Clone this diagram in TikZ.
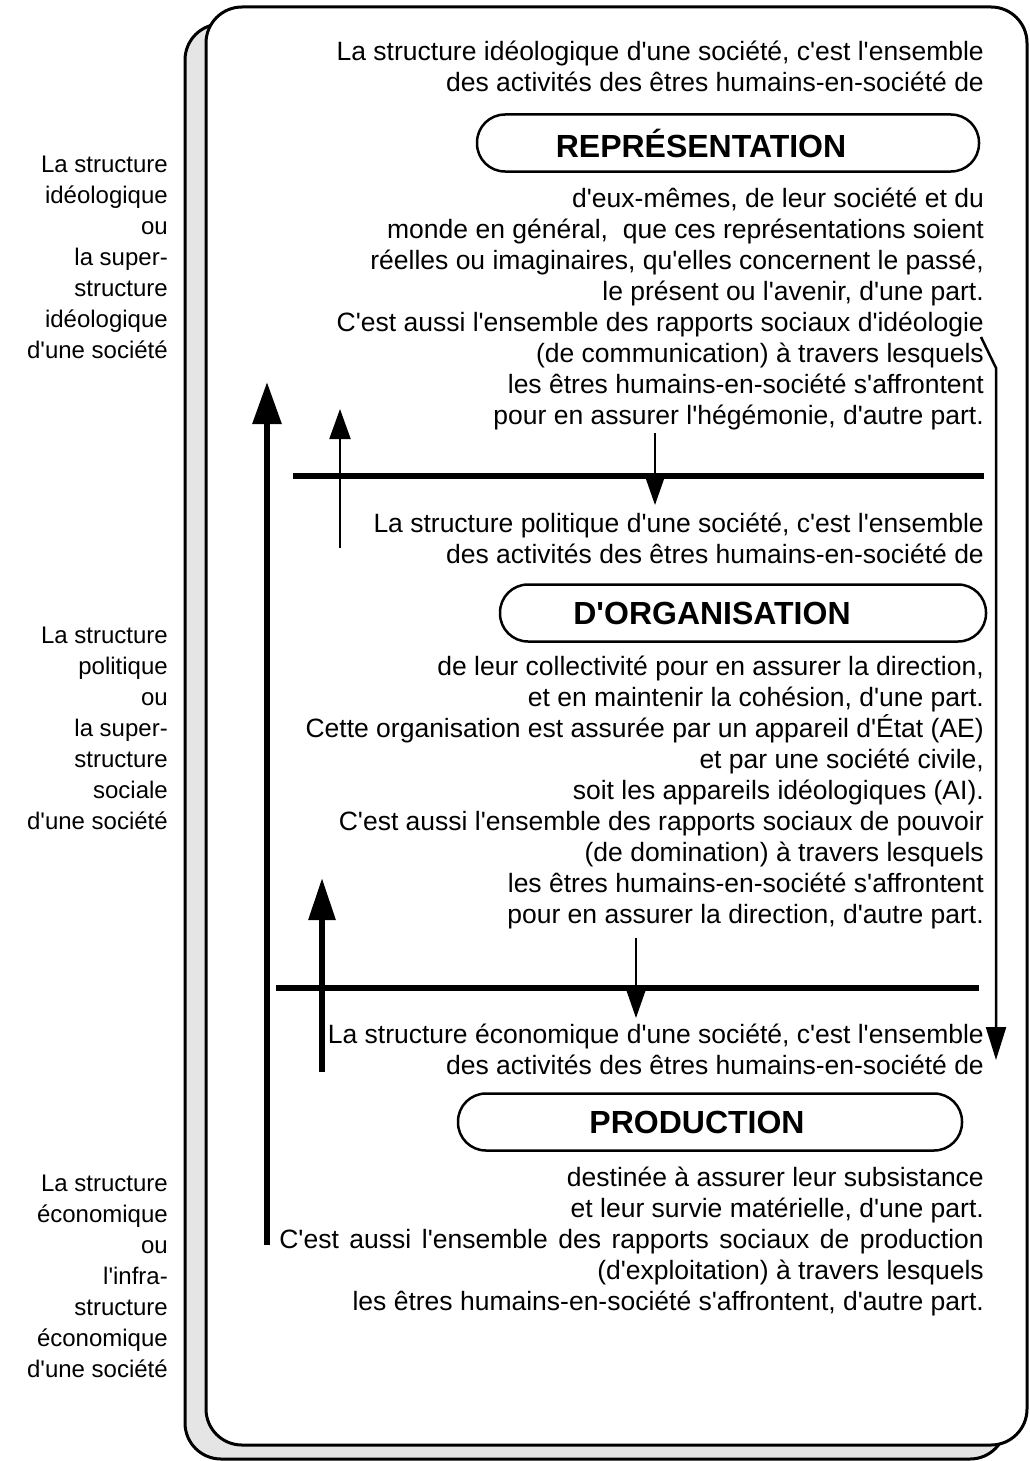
\documentclass[tikz,border=0pt]{standalone}
\usepackage{fontspec}
\setmainfont{Liberation Sans}[Ligatures=TeXOff]
\usetikzlibrary{arrows.meta}

\begin{document}
\begin{tikzpicture}[x=1pt,y=-1pt,
  frame/.style={line width=3pt, rounded corners=36pt},
  % text blocks are placed by the baseline of their last line
  txt/.style={font=\fontsize{26.5}{31}\selectfont, align=right, anchor=base east, inner sep=0pt},
  side/.style={txt, font=\fontsize{24}{31}\selectfont},
  banner/.style={draw, line width=2.5pt, rounded corners=28pt, minimum height=57pt,
                 inner sep=0pt, font=\fontsize{32}{36}\selectfont\bfseries},
  rule/.style={line width=6pt},
  bigarrow/.style={line width=6pt, -{Triangle[width=28pt,length=42pt]}},
  smallarrow/.style={line width=2pt, -{Triangle[width=21pt,length=30pt]}},
]
\useasboundingbox (0,0) rectangle (1029,1461);

% card with its shadow
\draw[frame, fill=black!10] (185,24) rectangle (1006,1459);
\draw[frame, fill=white] (206,7) rectangle (1027,1445);

% ---- ideological level ----
\node[txt] (ideo1) at (984,92) {La structure idéologique d'une société, c'est l'ensemble\\
des activités des êtres humains-en-société de};
\node[banner, minimum width=502pt] (rep) at (728,143) {REPRÉSENTATION\hspace*{54pt}};
\node[txt] (ideo2) at (984,424) {d'eux-mêmes, de leur société et du\\
monde en général,\ \ que ces représentations soient\\
réelles ou imaginaires, qu'elles concernent le passé,\\
le présent ou l'avenir, d'une part.\\
C'est aussi l'ensemble des rapports sociaux d'idéologie\\
(de communication) à travers lesquels\\
les êtres humains-en-société s'affrontent\\
pour en assurer l'hégémonie, d'autre part.};

% ---- political level ----
\node[txt] (poli1) at (984,563) {La structure politique d'une société, c'est l'ensemble\\
des activités des êtres humains-en-société de};
\node[banner, minimum width=486pt] (org) at (743,613) {D'ORGANISATION\hspace*{62pt}};
\node[txt] (poli2) at (984,923) {de leur collectivité pour en assurer la direction,\\
et en maintenir la cohésion, d'une part.\\
Cette organisation est assurée par un appareil d'État (AE)\\
et par une société civile,\\
soit les appareils idéologiques (AI).\\
C'est aussi l'ensemble des rapports sociaux de pouvoir\\
(de domination) à travers lesquels\\
les êtres humains-en-société s'affrontent\\
pour en assurer la direction, d'autre part.};

% ---- economic level ----
\node[txt] (eco1) at (984,1074) {La structure économique d'une société, c'est l'ensemble\\
des activités des êtres humains-en-société de};
\node[banner, minimum width=504pt] (prod) at (710,1122) {PRODUCTION\hspace*{26pt}};
\node[txt] (eco2) at (984,1310) {destinée à assurer leur subsistance\\
et leur survie matérielle, d'une part.\\
{\spaceskip=10.6pt\relax C'est aussi l'ensemble des rapports sociaux de production}\\
(d'exploitation) à travers lesquels\\
les êtres humains-en-société s'affrontent, d'autre part.};

% ---- side labels ----
\node[side] (lab1) at (168,358) {La structure\\idéologique\\ou\\la super-\\structure\\idéologique\\d'une société};
\node[side] (lab2) at (168,829) {La structure\\politique\\ou\\la super-\\structure\\sociale\\d'une société};
\node[side] (lab3) at (168,1377) {La structure\\économique\\ou\\l'infra-\\structure\\économique\\d'une société};

% ---- separating rules ----
\coordinate (r1a) at (293,476);  \coordinate (r1b) at (984,476);
\coordinate (r2a) at (276,988);  \coordinate (r2b) at (979,988);
\draw[rule] (r1a) -- (r1b);
\draw[rule] (r2a) -- (r2b);

% ---- determination arrows ----
\coordinate (up0) at (267,1245);  \coordinate (up1) at (267,382);
\draw[bigarrow] (up0) -- (up1);
\coordinate (ua0) at (340,548);   \coordinate (ua1) at (340,409);
\draw[smallarrow] (ua0) -- (ua1);
\coordinate (ub0) at (322,1072);  \coordinate (ub1) at (322,878);
\draw[bigarrow, -{Triangle[width=26pt,length=42pt]}] (ub0) -- (ub1);
\coordinate (da0) at (655,433);   \coordinate (da1) at (655,505);
\draw[smallarrow, -{Triangle[width=19pt,length=28pt]}] (da0) -- (da1);
\coordinate (db0) at (636,938);   \coordinate (db1) at (636,1018);
\draw[smallarrow, -{Triangle[width=19pt,length=28pt]}] (db0) -- (db1);
\coordinate (ra0) at (981,337);   \coordinate (ra1) at (996,368);  \coordinate (ra2) at (996,1060);
\draw[line width=2.5pt, -{Triangle[width=20pt,length=33pt]}] (ra0) -- (ra1) -- (ra2);

\end{tikzpicture}
\end{document}
